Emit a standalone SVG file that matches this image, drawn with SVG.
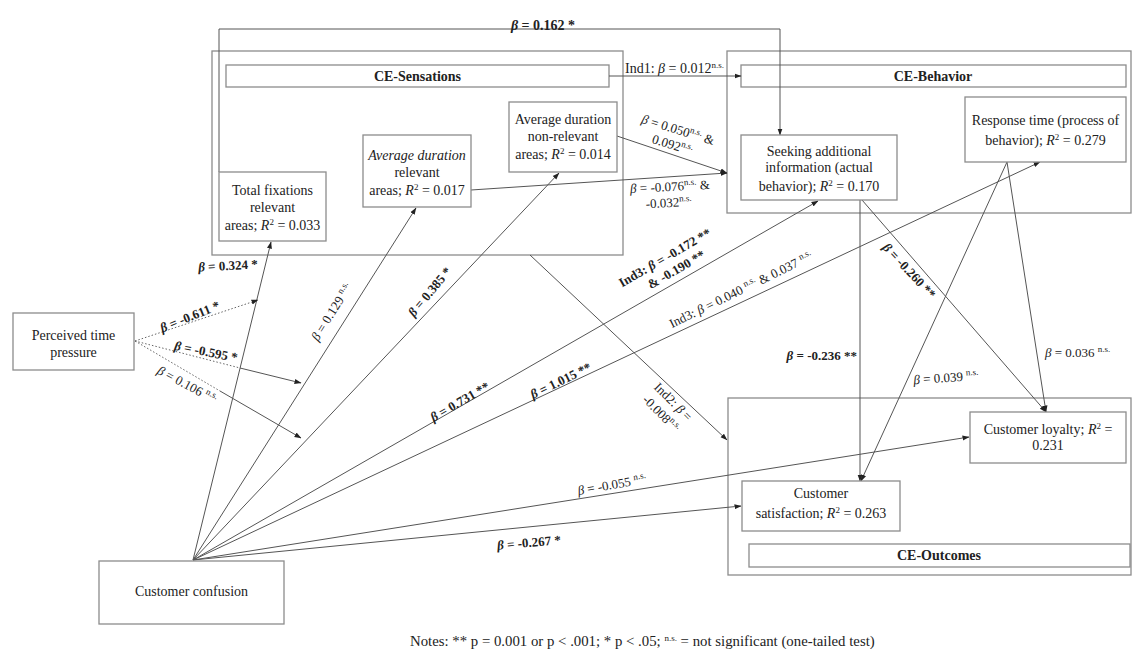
<svg xmlns="http://www.w3.org/2000/svg" width="1132" height="649" viewBox="0 0 1132 649">
<defs>
<marker id="ah" markerWidth="7" markerHeight="6" refX="6.5" refY="3" orient="auto" markerUnits="userSpaceOnUse">
<path d="M0,0.5 L7,3 L0,5.5 z" fill="#222"/>
</marker>
<style>
.outer{fill:none;stroke:#8c8c8c;stroke-width:1.3}
.box{fill:#fff;stroke:#8c8c8c;stroke-width:1.3}
.c{fill:none;stroke:#555;stroke-width:1}
.a{marker-end:url(#ah)}
.dot{stroke-dasharray:1.5 2;stroke:#666}
text{font-family:"Liberation Serif","Times New Roman",serif;font-size:14px;fill:#222}
.m{text-anchor:middle}
.b{font-weight:bold}
.l{font-size:13px}
.i{font-style:italic}
.s{font-size:9px}
.n{font-size:14.8px}
</style>
</defs>
<rect width="1132" height="649" fill="#fff"/>

<g id="ce-sensations">
<rect class="outer" x="212" y="51" width="411" height="204"/>
<rect class="box" x="226" y="65" width="383" height="22"/>
<text class="m b" x="417.5" y="81">CE-Sensations</text>
</g>
<g id="ce-behavior">
<rect class="outer" x="727" y="51" width="404" height="162"/>
<rect class="box" x="741" y="65" width="385" height="22"/>
<text class="m b" x="933" y="81">CE-Behavior</text>
</g>
<g id="ce-outcomes">
<rect class="outer" x="728" y="398" width="403" height="177"/>
<rect class="box" x="749" y="544" width="381" height="23"/>
<text class="m b" x="939" y="560">CE-Outcomes</text>
</g>

<g id="connectors">
<path class="c a" d="M193,560 L271,242"/>
<path class="c a" d="M193,560 L416,208"/>
<path class="c a" d="M193,560 L559,173"/>
<path class="c a" d="M193,560 L818,201"/>
<path class="c a" d="M193,560 L1040,162"/>
<path class="c a" d="M193,560 L969,437"/>
<path class="c a" d="M193,560 L741,506"/>
<path class="c dot a" d="M135,341 L258,300"/>
<path class="c dot" d="M135,341 L240,368"/>
<path class="c a" d="M240,368 L301,383"/>
<path class="c dot" d="M135,341 L220,391"/>
<path class="c a" d="M220,391 L301,438"/>
<path class="c a" d="M219,172 L219,29 L780,29 L780,135"/>
<path class="c a" d="M609,76 L741,76"/>
<path class="c a" d="M617,136 L727,173"/>
<path class="c a" d="M471,190 L727,173"/>
<path class="c a" d="M530,255 L727,440"/>
<path class="c a" d="M860,200 L860,481"/>
<path class="c a" d="M862,200 L1046,412"/>
<path class="c a" d="M1007,162 L861,481"/>
<path class="c a" d="M1007,162 L1046,412"/>

<text class="m b" x="543" y="30"><tspan class="i">β</tspan> = 0.162 *</text>
<text x="625" y="73">Ind1: <tspan class="i">β</tspan> = 0.012<tspan class="s" baseline-shift="super">n.s.</tspan></text>
<g transform="translate(678,130) rotate(17)">
<text class="m l" x="0" y="4"><tspan class="i">β</tspan> = 0.050<tspan class="s" baseline-shift="super">n.s.</tspan> &amp;</text>
<text class="m l" x="-1" y="20">0.092<tspan class="s" baseline-shift="super">n.s.</tspan></text>
</g>
<g transform="translate(670,187) rotate(-3)">
<text class="m l" x="0" y="4"><tspan class="i">β</tspan> = -0.076<tspan class="s" baseline-shift="super">n.s.</tspan> &amp;</text>
<text class="m l" x="-2" y="20">-0.032<tspan class="s" baseline-shift="super">n.s.</tspan></text>
</g>
<text class="m b l" transform="translate(228,266) rotate(-3)" y="4"><tspan class="i">β</tspan> = 0.324 *</text>
<text class="m b l" transform="translate(190,317) rotate(-22)" y="4"><tspan class="i">β</tspan> = -0.611 *</text>
<text class="m b l" transform="translate(206,352) rotate(11)" y="4"><tspan class="i">β</tspan> = -0.595 *</text>
<text class="m l" transform="translate(187,385) rotate(28)" y="4"><tspan class="i">β</tspan> = 0.106 <tspan class="s" baseline-shift="super">n.s.</tspan></text>
<text class="m l" transform="translate(332,312) rotate(-58)" y="4"><tspan class="i">β</tspan> = 0.129 <tspan class="s" baseline-shift="super">n.s.</tspan></text>
<text class="m b l" transform="translate(430,292) rotate(-50)" y="4"><tspan class="i">β</tspan> = 0.385 *</text>
<text class="m b l" transform="translate(460,402) rotate(-30)" y="4"><tspan class="i">β</tspan> = 0.731 **</text>
<text class="m b l" transform="translate(561,381) rotate(-26)" y="4"><tspan class="i">β</tspan> = 1.015 **</text>
<g transform="translate(665,258) rotate(-30)">
<text class="m b l" x="0" y="4">Ind3: <tspan class="i">β</tspan> = -0.172 **</text>
<text class="m b l" x="4" y="20">&amp; -0.190 **</text>
</g>
<text class="m l" transform="translate(741,290) rotate(-26)" y="4">Ind3: <tspan class="i">β</tspan> = 0.040 <tspan class="s" baseline-shift="super">n.s.</tspan> &amp; 0.037 <tspan class="s" baseline-shift="super">n.s.</tspan></text>
<g transform="translate(673,402) rotate(45)">
<text class="m l" x="0" y="4">Ind2: <tspan class="i">β</tspan> =</text>
<text class="m l" x="0" y="21">-0.008<tspan class="s" baseline-shift="super">n.s.</tspan></text>
</g>
<text class="m l" transform="translate(612,485) rotate(-10)" y="4"><tspan class="i">β</tspan> = -0.055 <tspan class="s" baseline-shift="super">n.s.</tspan></text>
<text class="m b l" transform="translate(529,543) rotate(-5)" y="4"><tspan class="i">β</tspan> = -0.267 *</text>
<text class="b l" x="857" y="360" text-anchor="end"><tspan class="i">β</tspan> = -0.236 **</text>
<text class="m b l" transform="translate(909,271) rotate(47)" y="4"><tspan class="i">β</tspan> = -0.260 **</text>
<text class="m l" transform="translate(946,378) rotate(-4)" y="4"><tspan class="i">β</tspan> = 0.039 <tspan class="s" baseline-shift="super">n.s.</tspan></text>
<text class="l" x="1045" y="357"><tspan class="i">β</tspan> = 0.036 <tspan class="s" baseline-shift="super">n.s.</tspan></text>
</g>

<g id="total-fixations">
<rect class="box" x="219" y="172" width="107" height="69"/>
<text class="m" x="272.5" y="195">Total fixations</text>
<text class="m" x="272.5" y="212">relevant</text>
<text class="m" x="272.5" y="230">areas; <tspan class="i">R</tspan><tspan class="s" baseline-shift="super">2</tspan> = 0.033</text>
</g>
<g id="avg-duration-relevant">
<rect class="box" x="363" y="135" width="108" height="72"/>
<text class="m i" x="417" y="160">Average duration</text>
<text class="m" x="417" y="177">relevant</text>
<text class="m" x="417" y="195">areas; <tspan class="i">R</tspan><tspan class="s" baseline-shift="super">2</tspan> = 0.017</text>
</g>
<g id="avg-duration-nonrelevant">
<rect class="box" x="509" y="102" width="108" height="70"/>
<text class="m" x="563" y="124">Average duration</text>
<text class="m" x="563" y="141">non-relevant</text>
<text class="m" x="563" y="159">areas; <tspan class="i">R</tspan><tspan class="s" baseline-shift="super">2</tspan> = 0.014</text>
</g>
<g id="seeking-info">
<rect class="box" x="741" y="135" width="156" height="65"/>
<text class="m" x="819" y="156">Seeking additional</text>
<text class="m" x="819" y="172">information (actual</text>
<text class="m" x="819" y="191">behavior); <tspan class="i">R</tspan><tspan class="s" baseline-shift="super">2</tspan> = 0.170</text>
</g>
<g id="response-time">
<rect class="box" x="965" y="97" width="161" height="65"/>
<text class="m" x="1045.5" y="125">Response time (process of</text>
<text class="m" x="1045.5" y="145">behavior); <tspan class="i">R</tspan><tspan class="s" baseline-shift="super">2</tspan> = 0.279</text>
</g>
<g id="customer-satisfaction">
<rect class="box" x="742" y="481" width="158" height="50"/>
<text class="m" x="821" y="498">Customer</text>
<text class="m" x="821" y="518">satisfaction; <tspan class="i">R</tspan><tspan class="s" baseline-shift="super">2</tspan> = 0.263</text>
</g>
<g id="customer-loyalty">
<rect class="box" x="970" y="412" width="156" height="51"/>
<text class="m" x="1048" y="434">Customer loyalty; <tspan class="i">R</tspan><tspan class="s" baseline-shift="super">2</tspan> =</text>
<text class="m" x="1048" y="450">0.231</text>
</g>
<g id="perceived-time-pressure">
<rect class="box" x="13" y="313" width="121" height="57"/>
<text class="m" x="73.5" y="340">Perceived time</text>
<text class="m" x="73.5" y="357">pressure</text>
</g>
<g id="customer-confusion">
<rect class="box" x="99" y="561" width="185" height="63"/>
<text class="m" x="191.5" y="596">Customer confusion</text>
</g>

<text class="n" x="410" y="646">Notes: ** p = 0.001 or p &lt; .001; * p &lt; .05; <tspan class="s" baseline-shift="super">n.s.</tspan> = not significant (one-tailed test)</text>
</svg>
